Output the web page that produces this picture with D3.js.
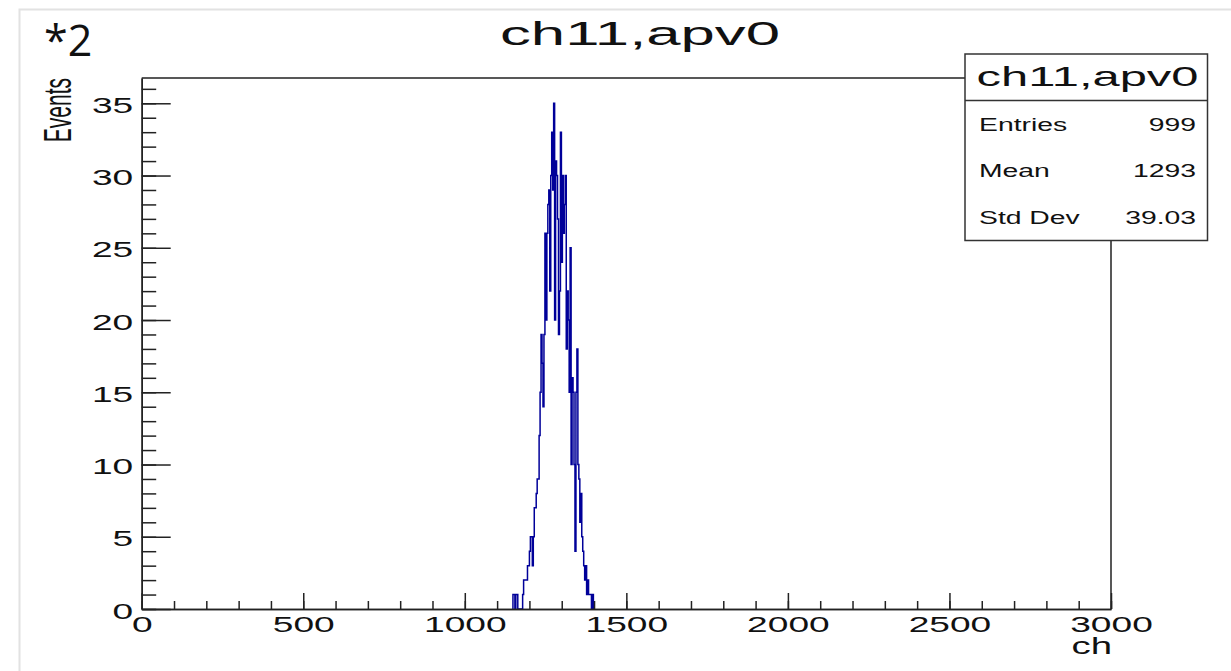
<!DOCTYPE html>
<html>
<head>
<meta charset="utf-8">
<script src="https://cdn.jsdelivr.net/npm/d3@7"></script>
<style>
  body { margin: 0; background: #fff; }
  svg text { font-family: "Liberation Sans", Arial, sans-serif; fill: #111; }
</style>
</head>
<body>
<div id="chart"></div>
<script>
/********************* data *********************/
var binLow = 1149,  // lower edge of the first non-empty bin
    binWidth = 3;   // 1000 bins over 0..3000
var counts = [1, 1, 0, 1, 1, 0, 0, 0, 0, 0,
              1, 2, 2, 2, 2, 3, 3, 4, 5, 5,
              3, 5, 7, 7, 8, 9, 9, 12, 15, 19,
              17, 14, 19, 26, 20, 26, 28, 29, 22, 30,
              33, 29, 35, 20, 31, 30, 27, 19, 22, 33,
              24, 30, 26, 28, 30, 18, 22, 20, 15, 25,
              10, 16, 15, 10, 4, 15, 18, 10, 9, 6,
              8, 5, 4, 3, 2, 3, 1, 2, 1, 1,
              1, 0, 1];
var xMajor = [0, 500, 1000, 1500, 2000, 2500, 3000];
var yMajor = [0, 5, 10, 15, 20, 25, 30, 35];
var statNames = ["Entries", "Mean", "Std Dev"];
var statValues = ["999", "1293", "39.03"];
var histTitle = "ch11,apv0";

/********************* layout *********************/
var W = 1231, H = 671;
var margin = {left: 141.7, right: 1111, top: 78, bottom: 609};
var stretch = 1.6;   // the ROOT canvas is stretched sideways

var svg = d3.select("#chart").append("svg")
    .attr("width", W)
    .attr("height", H);

// pale canvas border
svg.append("path")
    .attr("d", "M19.5,671V9.5H1231")
    .attr("fill", "none")
    .attr("stroke", "#e2e2e2")
    .attr("stroke-width", 2);

var x = d3.scaleLinear().domain([0, 3000]).range([margin.left, margin.right]);
var y = d3.scaleLinear().domain([0, 36.75]).range([margin.bottom, margin.top]);

// stretch factor that brings a text element to a given width
function fitWidth(t, w) {
  var n = t.node().getComputedTextLength();
  return w / n;
}

/********************* histogram *********************/
var d = "M" + x(binLow) + "," + y(0);
counts.forEach(function(c, i) {
  d += "V" + y(c) + "H" + x(binLow + (i + 1) * binWidth);
});
d += "V" + y(0);

svg.append("path")
    .attr("d", d)
    .attr("fill", "none")
    .attr("stroke", "#000099")
    .attr("stroke-width", 1.5);

/********************* axes *********************/
svg.append("path")
    .attr("d", "M" + margin.left + "," + margin.top + "H" + margin.right + "V" + margin.bottom)
    .attr("fill", "none")
    .attr("stroke", "#222")
    .attr("stroke-width", 1.5);

// x axis, ticks pointing up into the frame
var xMinorAxis = d3.axisBottom(x)
    .tickValues(d3.range(0, 3001, 100))
    .tickSizeInner(-8).tickSizeOuter(0)
    .tickFormat("");
var xAxis = d3.axisBottom(x)
    .tickValues(xMajor)
    .tickSizeInner(-16).tickSizeOuter(0)
    .tickPadding(7.5)
    .tickFormat(d3.format("d"));

svg.append("g")
    .attr("transform", "translate(0," + margin.bottom + ")")
    .call(xMinorAxis);
var gx = svg.append("g")
    .attr("transform", "translate(0," + margin.bottom + ")")
    .call(xAxis);

// y axis, ticks pointing right
var yMinorAxis = d3.axisLeft(y)
    .tickValues(d3.range(0, 37, 1))
    .tickSizeInner(-14.5).tickSizeOuter(0)
    .tickFormat("");
var yAxis = d3.axisLeft(y)
    .tickValues(yMajor)
    .tickSizeInner(-29).tickSizeOuter(0)
    .tickFormat(d3.format("d"));

svg.append("g")
    .attr("transform", "translate(" + margin.left + ",0)")
    .call(yMinorAxis);
var gy = svg.append("g")
    .attr("transform", "translate(" + margin.left + ",0)")
    .call(yAxis);

svg.selectAll(".domain, .tick line")
    .attr("stroke", "#222")
    .attr("stroke-width", 1.5);

gx.selectAll(".tick text")
    .attr("font-size", 22.5)
    .attr("fill", "#111")
    .attr("transform", "scale(1.65,1)");

gy.selectAll(".tick text")
    .attr("x", 0)
    .attr("dy", "0.4em")
    .attr("font-size", 22.5)
    .attr("fill", "#111")
    .attr("transform", "translate(-8.5,0) scale(1.65,1)");

svg.selectAll(".tick text").attr("font-family", "Liberation Sans, Arial, sans-serif");

// axis titles
svg.append("text")
    .attr("text-anchor", "end")
    .attr("font-size", 24)
    .attr("transform", "translate(" + (margin.right + 1) + ",654) scale(" + stretch + ",1)")
    .text("ch");

svg.append("text")
    .attr("text-anchor", "end")
    .attr("font-size", 21)
    .attr("transform", "translate(71," + margin.top + ") rotate(-90) scale(1,1.85)")
    .text("Events");

/********************* title *********************/
var title = svg.append("text")
    .attr("text-anchor", "middle")
    .attr("font-size", 34)
    .text(histTitle);
title.attr("transform", "translate(640,45) scale(" + fitWidth(title, 280) + ",1)");

/********************* stats box *********************/
var box = {x0: 965, x1: 1207.5, y0: 54, y1: 240.5, sep: 100.5};
svg.append("rect")
    .attr("x", box.x0).attr("y", box.y0)
    .attr("width", box.x1 - box.x0).attr("height", box.y1 - box.y0)
    .attr("fill", "#fff")
    .attr("stroke", "#333")
    .attr("stroke-width", 1.5);
svg.append("line")
    .attr("x1", box.x0).attr("x2", box.x1)
    .attr("y1", box.sep).attr("y2", box.sep)
    .attr("stroke", "#333")
    .attr("stroke-width", 1.5);

var boxTitle = svg.append("text")
    .attr("text-anchor", "middle")
    .attr("font-size", 27)
    .text(histTitle);
boxTitle.attr("transform", "translate(1087.5,86) scale(" + fitWidth(boxTitle, 222) + ",1)");

var rowY = [131, 177, 224];
statNames.forEach(function(s, i) {
  svg.append("text")
      .attr("font-size", 17.7)
      .attr("transform", "translate(979," + rowY[i] + ") scale(" + stretch + ",1)")
      .text(s);
  svg.append("text")
      .attr("font-size", 17.7)
      .attr("text-anchor", "end")
      .attr("transform", "translate(1196," + rowY[i] + ") scale(" + stretch + ",1)")
      .text(statValues[i]);
});

/********************* note *********************/
svg.append("text")
    .attr("x", 44)
    .attr("y", 56)
    .attr("font-size", 43)
    .attr("fill", "#000")
    .style("font-family", "'Open Sans', sans-serif")
    .text("*2");
</script>
</body>
</html>
